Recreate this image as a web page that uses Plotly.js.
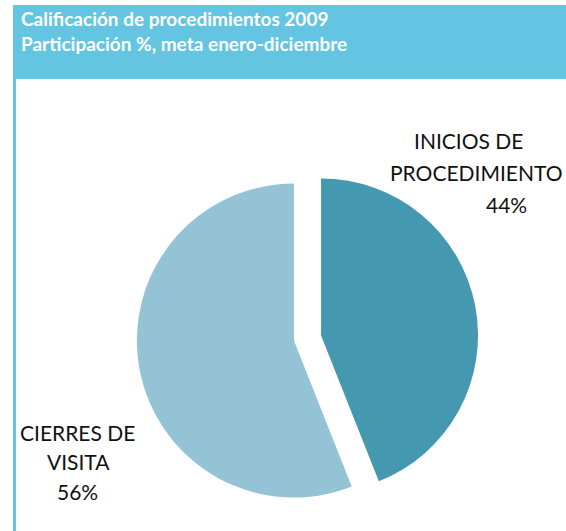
<!DOCTYPE html>
<html>
<head>
<meta charset="utf-8">
<script src="https://cdn.plot.ly/plotly-3.0.1.min.js"></script>
<style>
  html, body { margin: 0; padding: 0; background: #ffffff; }
  #chart { width: 566px; height: 531px; }
</style>
</head>
<body>
<div id="chart"></div>
<script>
// ---- data ----
const titleLines = ["Calificación de procedimientos 2009", "Participación %, meta enero-diciembre"];
const categories = ["INICIOS DE<br>PROCEDIMIENTO", "CIERRES DE<br>VISITA"];
const values = [44, 56];
const sliceColors = ["#4499b0", "#93c3d5"];

// ---- layout helpers (pixel -> paper) ----
const W = 566, H = 531;
const px = x => x / W;
const py = y => 1 - y / H;

const total = values.reduce((a, b) => a + b, 0);
const pctText = values.map(v => Math.round(v / total * 100) + "%");

// label line positions: [x, yCenter, xanchor]
const labelPos = [
  [[412, 140, "left"], [565, 172, "right"], [506, 204, "center"]],
  [[77, 432, "center"], [78, 461, "center"], [77, 491, "center"]]
];

const annotations = [];
annotations.push({
  text: titleLines.map(t => "<b>" + t + "</b>").join("<br>"),
  xref: "paper", yref: "paper", align: "left",
  x: px(19), y: py(31.5), xanchor: "left", yanchor: "middle",
  showarrow: false, font: { family: "Lato, 'Open Sans', sans-serif", size: 19, color: "#ffffff" }
});
categories.forEach((c, i) => {
  const lines = c.split("<br>").concat([pctText[i]]);
  lines.forEach((ln, j) => {
    const p = labelPos[i][j];
    annotations.push({
      text: ln, xref: "paper", yref: "paper",
      x: px(p[0]), y: py(p[1]), xanchor: p[2], yanchor: "middle",
      showarrow: false, font: { family: "Lato, 'Open Sans', sans-serif", size: 21, color: "#111111" }
    });
  });
});

const data = [{
  type: "pie",
  values: values,
  labels: categories,
  sort: false,
  direction: "clockwise",
  rotation: 0,
  pull: [0.088, 0.088],
  marker: { colors: sliceColors, line: { width: 0 } },
  textinfo: "none",
  hoverinfo: "none",
  showlegend: false,
  domain: { x: [0.2415, 0.8450], y: [0.0418, 0.6851] }
}];

const layout = {
  width: W, height: H,
  margin: { l: 0, r: 0, t: 0, b: 0 },
  paper_bgcolor: "#ffffff",
  plot_bgcolor: "#ffffff",
  showlegend: false,
  shapes: [
    { type: "rect", xref: "paper", yref: "paper", x0: px(13), x1: 1, y0: py(79), y1: py(5),
      fillcolor: "#63c5e1", line: { width: 0 }, layer: "below" },
    { type: "rect", xref: "paper", yref: "paper", x0: px(13), x1: px(16), y0: 0, y1: py(79),
      fillcolor: "#63c5e1", line: { width: 0 }, layer: "below" }
  ],
  annotations: annotations
};

Plotly.newPlot("chart", data, layout, { staticPlot: true, displayModeBar: false });
</script>
</body>
</html>
